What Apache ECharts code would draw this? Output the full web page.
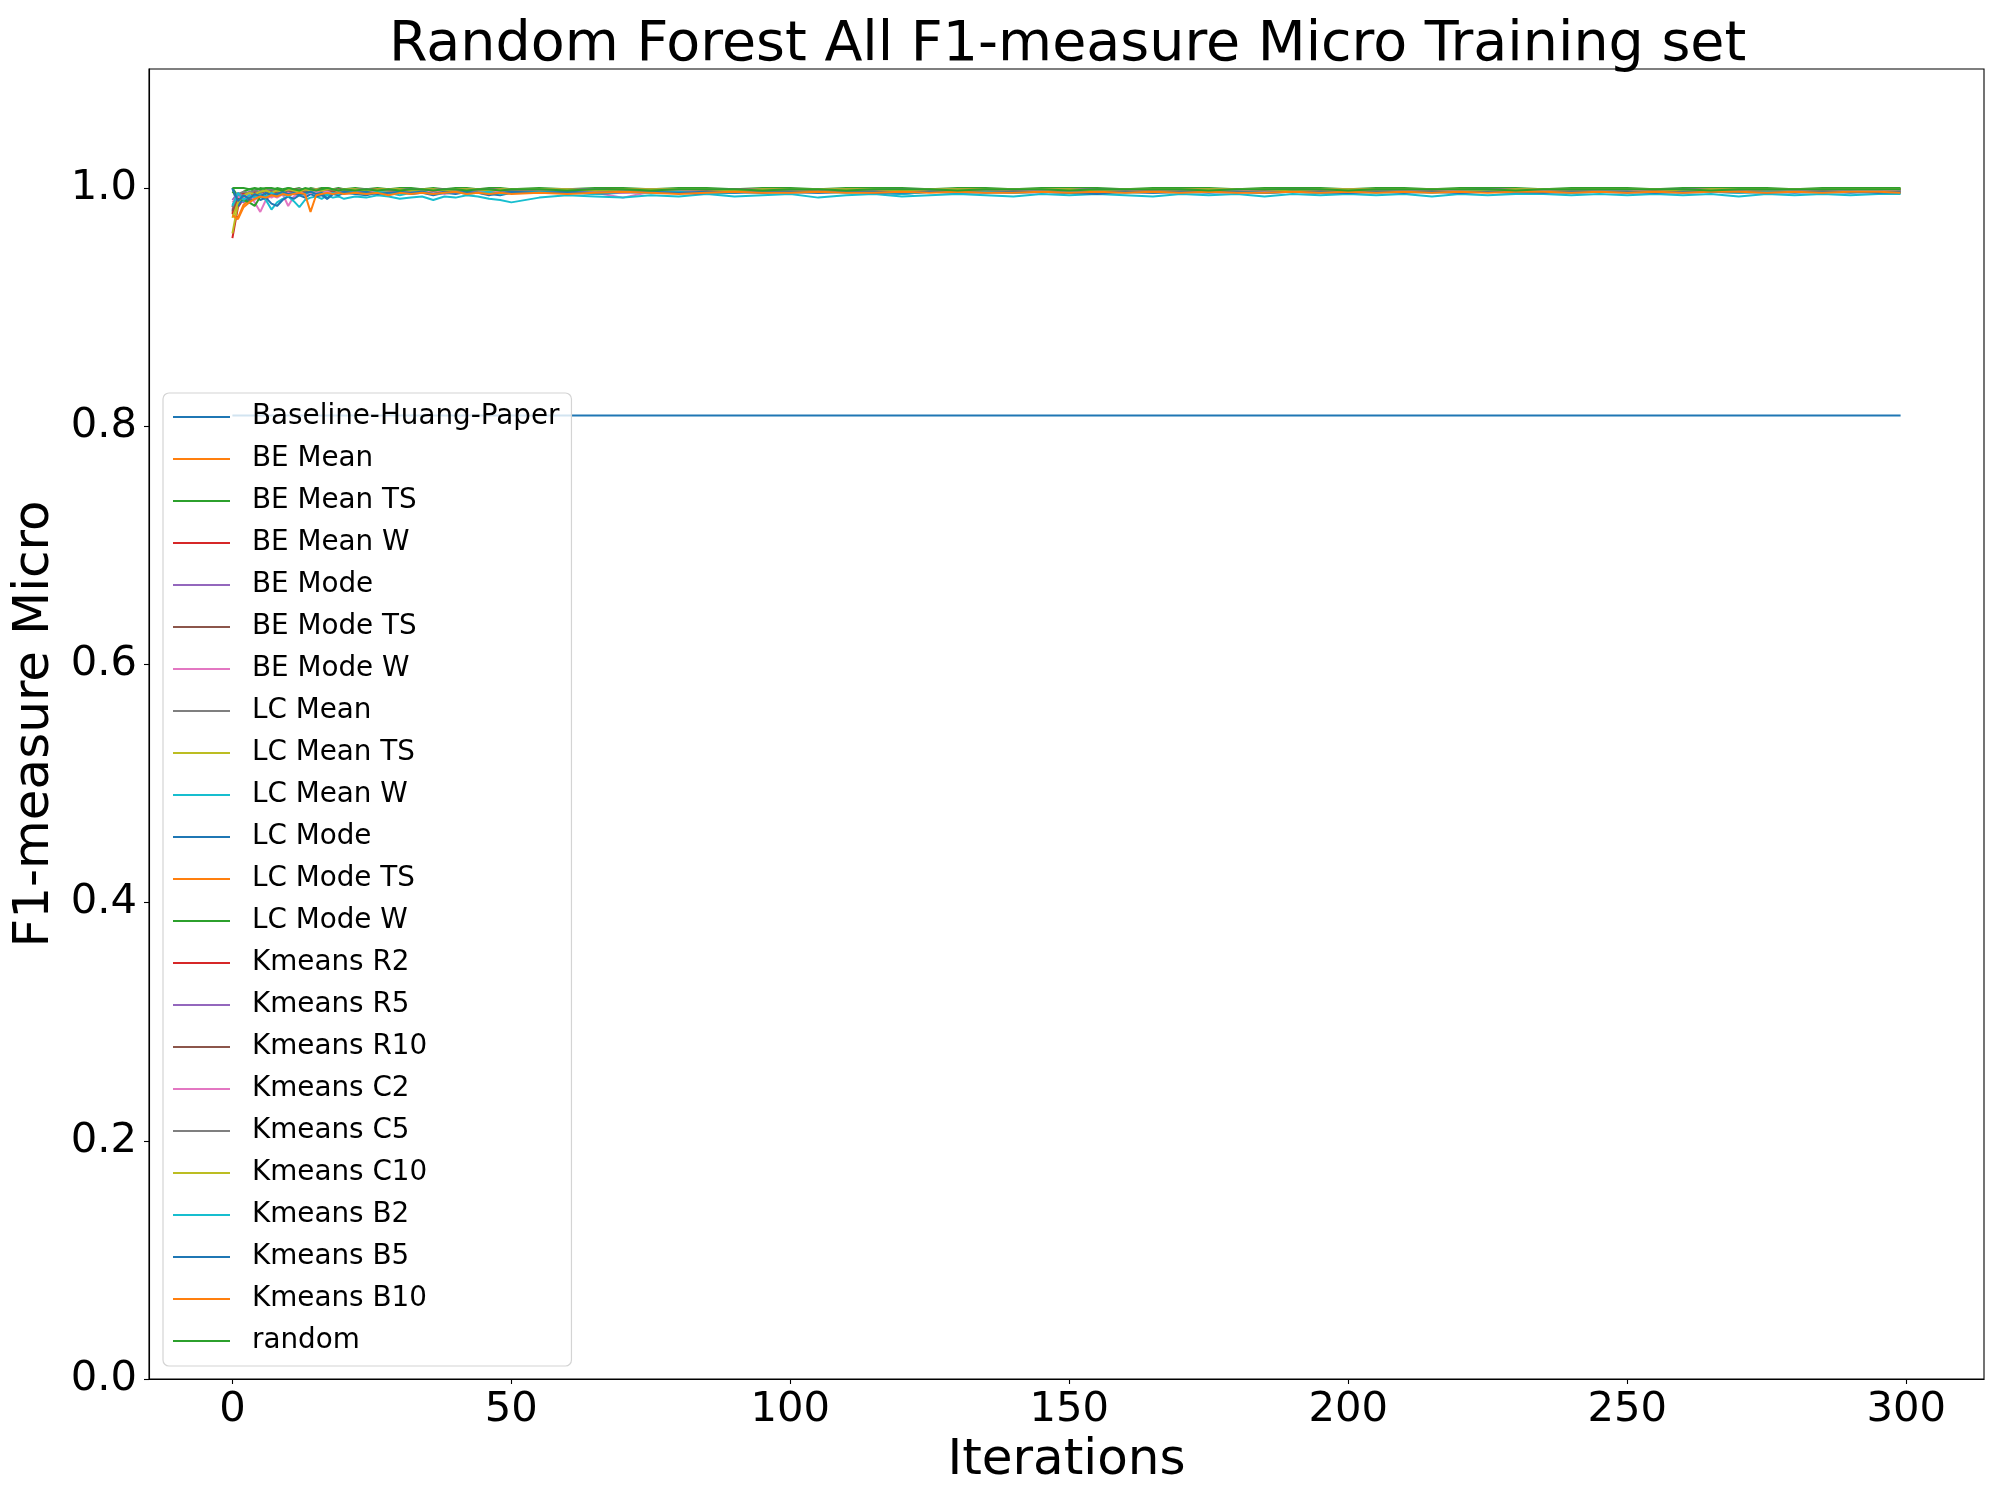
<!DOCTYPE html>
<html>
<head>
<meta charset="utf-8">
<script src="https://cdn.jsdelivr.net/npm/echarts@6/dist/echarts.min.js"></script>
<style>
html,body{margin:0;padding:0;background:#fff;}
#chart{width:2000px;height:1500px;}
</style>
</head>
<body>
<div id="chart"></div>
<script>
// ---- Data ----
const TITLE = 'Random Forest All F1-measure Micro Training set';
const X_NAME = 'Iterations';
const Y_NAME = 'F1-measure Micro';
const X_TICKS = [0, 50, 100, 150, 200, 250, 300];
const Y_TICKS = [0.0, 0.2, 0.4, 0.6, 0.8, 1.0];

const ITER = [0,1,2,3,4,5,6,7,8,9,10,11,12,13,14,15,16,17,18,19,20,
  22,24,26,28,30,32,34,36,38,40,42,44,46,48,50,
  55,60,65,70,75,80,85,90,95,100,
  105,110,115,120,125,130,135,140,145,150,
  155,160,165,170,175,180,185,190,195,200,
  205,210,215,220,225,230,235,240,245,250,
  255,260,265,270,275,280,285,290,295,299];

const BASELINE_ITER = [0, 299];
const BASELINE = [0.809, 0.809];

const BE_MEAN = [0.978,0.975,0.986,0.990,0.993,0.995,0.992,0.996,0.994,0.997, 0.995,0.996,0.998,0.995,0.996,0.997,0.995,0.997,0.996,0.998, 0.996,
  0.997,0.995,0.997,0.996,0.998,0.996,0.997,0.995,0.997,0.998, 0.996,0.997,0.996,0.998,0.997,
  0.997,0.996,0.998,0.997,0.996,0.997,0.998,0.997,0.996,0.998,
  0.997,0.997,0.998,0.996,0.997,0.998,0.997,0.997,0.998,0.997,
  0.996,0.998,0.997,0.998,0.997,0.997,0.998,0.997,0.996,0.998,
  0.997,0.998,0.997,0.997,0.998,0.997,0.998,0.997,0.997,0.998,
  0.997,0.998,0.997,0.997,0.998,0.997,0.998,0.997,0.997,0.997];
const BE_MEAN_TS = [1.000,0.993,0.997,0.999,0.998,1.000,0.999,0.998,1.000,0.999, 1.000,0.999,1.000,0.998,1.000,0.999,1.000,1.000,0.999,1.000, 0.999,
  1.000,0.999,1.000,0.999,1.000,1.000,0.999,1.000,0.999,1.000, 1.000,0.999,1.000,1.000,0.999,
  1.000,0.999,1.000,1.000,0.999,1.000,1.000,0.999,1.000,1.000,
  0.999,1.000,1.000,1.000,0.999,1.000,1.000,0.999,1.000,1.000,
  1.000,0.999,1.000,1.000,1.000,0.999,1.000,1.000,1.000,0.999,
  1.000,1.000,0.999,1.000,1.000,1.000,0.999,1.000,1.000,1.000,
  0.999,1.000,1.000,1.000,1.000,0.999,1.000,1.000,1.000,1.000];
const BE_MEAN_W = [0.958,0.984,0.991,0.995,0.993,0.997,0.996,0.998,0.995,0.997, 0.998,0.996,0.998,0.997,0.999,0.997,0.998,0.999,0.997,0.998, 0.999,
  0.998,0.997,0.999,0.998,0.997,0.999,0.998,0.999,0.997,0.998, 0.999,0.998,0.999,0.998,0.999,
  0.998,0.999,0.998,0.999,0.999,0.998,0.999,0.998,0.999,0.999,
  0.998,0.999,0.999,0.998,0.999,0.999,0.998,0.999,0.999,0.999,
  0.998,0.999,0.999,0.998,0.999,0.999,0.999,0.998,0.999,0.999,
  0.999,0.998,0.999,0.999,0.999,0.998,0.999,0.999,0.998,0.999,
  0.999,0.999,0.998,0.999,0.999,0.999,0.998,0.999,0.999,0.999];
const BE_MODE = [0.985,0.990,0.988,0.993,0.991,0.995,0.993,0.996,0.994,0.997, 0.995,0.997,0.996,0.998,0.996,0.997,0.998,0.996,0.998,0.997, 0.998,
  0.997,0.998,0.996,0.998,0.997,0.998,0.997,0.999,0.997,0.998, 0.998,0.997,0.999,0.998,0.997,
  0.998,0.999,0.998,0.997,0.998,0.999,0.998,0.998,0.999,0.998,
  0.997,0.998,0.999,0.998,0.998,0.999,0.998,0.998,0.999,0.998,
  0.998,0.999,0.998,0.998,0.999,0.998,0.999,0.998,0.998,0.999,
  0.998,0.999,0.998,0.999,0.998,0.998,0.999,0.998,0.999,0.998,
  0.999,0.998,0.999,0.998,0.999,0.998,0.999,0.998,0.999,0.998];
const BE_MODE_TS = [0.980,0.992,0.995,0.990,0.996,0.994,0.997,0.995,0.998,0.996, 0.997,0.998,0.996,0.998,0.997,0.999,0.997,0.998,0.999,0.997, 0.998,
  0.999,0.998,0.997,0.999,0.998,0.999,0.998,0.997,0.999,0.998, 0.999,0.998,0.999,0.999,0.998,
  0.999,0.998,0.999,0.999,0.998,0.999,0.999,0.998,0.999,0.999,
  0.999,0.998,0.999,0.999,0.999,0.998,0.999,0.999,0.999,0.998,
  0.999,0.999,0.999,0.998,0.999,0.999,0.999,0.999,0.998,0.999,
  0.999,0.999,0.998,0.999,0.999,0.999,0.999,0.998,0.999,0.999,
  0.999,0.999,0.998,0.999,0.999,0.999,0.999,0.999,0.998,0.999];
const BE_MODE_W = [0.982,0.995,0.991,0.993,0.988,0.980,0.990,0.994,0.992,0.995, 0.985,0.993,0.995,0.994,0.996,0.995,0.997,0.995,0.996,0.997, 0.995,
  0.997,0.996,0.995,0.997,0.996,0.998,0.996,0.997,0.995,0.997, 0.996,0.998,0.997,0.996,0.997,
  0.998,0.997,0.996,0.992,0.997,0.998,0.997,0.996,0.998,0.997,
  0.997,0.998,0.996,0.997,0.998,0.997,0.998,0.997,0.996,0.998,
  0.997,0.998,0.997,0.998,0.997,0.996,0.998,0.997,0.998,0.997,
  0.998,0.997,0.998,0.997,0.997,0.998,0.997,0.998,0.997,0.998,
  0.997,0.998,0.997,0.998,0.997,0.998,0.997,0.998,0.998,0.997];
const LC_MEAN = [0.984,0.993,0.996,0.994,0.997,0.995,0.998,0.996,0.997,0.998, 0.997,0.999,0.997,0.998,0.998,0.999,0.997,0.999,0.998,0.999, 0.998,
  0.999,0.998,0.999,0.998,0.999,0.999,0.998,0.999,0.999,0.998, 0.999,0.999,0.998,0.999,0.999,
  0.999,0.999,0.998,0.999,0.999,0.999,0.998,0.999,0.999,0.999,
  0.998,0.999,0.999,0.999,0.999,0.998,0.999,0.999,0.999,0.999,
  0.998,0.999,0.999,0.999,0.999,0.998,0.999,0.999,0.999,0.999,
  0.999,0.998,0.999,0.999,0.999,0.999,0.999,0.998,0.999,0.999,
  0.999,0.999,0.999,0.998,0.999,0.999,0.999,0.999,0.999,0.999];
const LC_MEAN_TS = [0.962,0.987,0.993,0.996,0.995,0.997,0.996,0.998,0.997,0.996, 0.998,0.997,0.999,0.998,0.997,0.999,0.998,0.998,0.999,0.998, 0.999,
  0.998,0.999,0.998,0.999,0.999,0.998,0.999,0.998,0.999,0.999, 0.998,0.999,0.999,0.998,0.999,
  0.999,0.999,0.998,0.999,0.999,0.998,0.999,0.999,0.999,0.998,
  0.999,0.999,0.999,0.998,0.999,0.999,0.999,0.999,0.998,0.999,
  0.999,0.999,0.998,0.999,0.999,0.999,0.999,0.998,0.999,0.999,
  0.999,0.999,0.999,0.998,0.999,0.999,0.999,0.999,0.998,0.999,
  0.999,0.999,0.999,0.999,0.998,0.999,0.999,0.999,0.999,0.999];
const LC_MEAN_W = [0.986,0.992,0.989,0.994,0.991,0.993,0.990,0.982,0.988,0.991, 0.993,0.989,0.984,0.990,0.992,0.993,0.991,0.994,0.992,0.993, 0.991,
  0.993,0.992,0.994,0.993,0.991,0.992,0.993,0.990,0.993,0.992, 0.994,0.993,0.991,0.990,0.988,
  0.992,0.994,0.993,0.992,0.994,0.993,0.995,0.993,0.994,0.995,
  0.992,0.994,0.995,0.993,0.994,0.995,0.994,0.993,0.995,0.994,
  0.995,0.994,0.993,0.995,0.994,0.995,0.993,0.995,0.994,0.995,
  0.994,0.995,0.993,0.995,0.994,0.995,0.995,0.994,0.995,0.994,
  0.995,0.994,0.995,0.993,0.995,0.994,0.995,0.994,0.995,0.995];
const LC_MODE = [1.000,0.985,0.992,0.988,0.993,0.990,0.992,0.987,0.985,0.990, 0.993,0.991,0.994,0.992,0.995,0.993,0.994,0.991,0.995,0.994, 0.996,
  0.995,0.994,0.996,0.995,0.997,0.995,0.996,0.994,0.996,0.995, 0.997,0.996,0.995,0.994,0.996,
  0.996,0.997,0.995,0.996,0.997,0.996,0.995,0.997,0.996,0.997,
  0.996,0.997,0.996,0.995,0.997,0.996,0.997,0.996,0.997,0.996,
  0.995,0.997,0.996,0.997,0.996,0.997,0.996,0.997,0.996,0.996,
  0.997,0.996,0.997,0.996,0.997,0.996,0.997,0.996,0.997,0.996,
  0.997,0.996,0.997,0.996,0.997,0.996,0.997,0.996,0.997,0.996];
const LC_MODE_TS = [0.979,0.990,0.994,0.992,0.995,0.993,0.996,0.994,0.997,0.995, 0.996,0.997,0.995,0.997,0.996,0.998,0.996,0.997,0.998,0.996, 0.997,
  0.998,0.997,0.996,0.998,0.997,0.998,0.996,0.997,0.998,0.997, 0.998,0.997,0.997,0.998,0.997,
  0.998,0.997,0.998,0.997,0.998,0.997,0.997,0.998,0.997,0.998,
  0.997,0.998,0.998,0.997,0.998,0.997,0.998,0.998,0.997,0.998,
  0.998,0.997,0.998,0.998,0.997,0.998,0.998,0.997,0.998,0.998,
  0.997,0.998,0.998,0.998,0.997,0.998,0.998,0.998,0.997,0.998,
  0.998,0.998,0.997,0.998,0.998,0.998,0.997,0.998,0.998,0.998];
const LC_MODE_W = [0.997,0.992,0.990,0.988,0.985,0.993,0.995,0.994,0.997,0.996, 0.998,0.997,0.998,0.999,0.997,0.998,0.999,0.998,0.999,0.998, 0.999,
  0.999,0.998,0.999,0.999,0.998,0.999,0.999,0.999,0.998,0.999, 0.999,0.999,0.998,0.999,0.999,
  0.999,0.999,0.999,0.998,0.999,0.999,0.999,0.999,0.998,0.999,
  0.999,0.999,0.999,0.999,0.998,0.999,0.999,0.999,0.999,0.999,
  0.998,0.999,0.999,0.999,0.999,0.999,0.998,0.999,0.999,0.999,
  0.999,0.999,0.999,0.998,0.999,0.999,0.999,0.999,0.999,0.999,
  0.998,0.999,0.999,0.999,0.999,0.999,0.999,0.998,0.999,0.999];
const KMEANS_R2 = [0.978,0.993,0.996,0.994,0.997,0.996,0.998,0.997,0.996,0.998, 0.997,0.999,0.998,0.997,0.999,0.998,0.999,0.998,0.999,0.998, 0.999,
  0.999,0.998,0.999,0.999,0.998,0.999,0.999,0.998,0.999,0.999, 0.999,0.998,0.999,0.999,0.999,
  0.999,0.998,0.999,0.999,0.999,0.999,0.998,0.999,0.999,0.999,
  0.999,0.998,0.999,0.999,0.999,0.999,0.999,0.998,0.999,0.999,
  0.999,0.999,0.998,0.999,0.999,0.999,0.999,0.999,0.998,0.999,
  0.999,0.999,0.999,0.999,0.998,0.999,0.999,0.999,0.999,0.999,
  0.999,0.998,0.999,0.999,0.999,0.999,0.999,0.999,0.999,0.999];
const KMEANS_R5 = [0.990,0.996,0.993,0.997,0.995,0.998,0.996,0.997,0.998,0.996, 0.998,0.997,0.999,0.997,0.998,0.999,0.998,0.997,0.999,0.998, 0.999,
  0.998,0.999,0.998,0.999,0.998,0.999,0.999,0.998,0.999,0.998, 0.999,0.999,0.998,0.999,0.999,
  0.998,0.999,0.999,0.998,0.999,0.999,0.999,0.998,0.999,0.999,
  0.999,0.998,0.999,0.999,0.999,0.999,0.998,0.999,0.999,0.999,
  0.999,0.998,0.999,0.999,0.999,0.999,0.999,0.998,0.999,0.999,
  0.999,0.999,0.998,0.999,0.999,0.999,0.999,0.999,0.998,0.999,
  0.999,0.999,0.999,0.998,0.999,0.999,0.999,0.999,0.999,0.999];
const KMEANS_R10 = [0.981,0.994,0.992,0.996,0.995,0.997,0.996,0.998,0.997,0.998, 0.996,0.998,0.999,0.997,0.998,0.999,0.998,0.999,0.997,0.999, 0.998,
  0.999,0.998,0.999,0.999,0.998,0.999,0.998,0.999,0.999,0.999, 0.998,0.999,0.999,0.998,0.999,
  0.999,0.999,0.998,0.999,0.999,0.999,0.999,0.998,0.999,0.999,
  0.999,0.999,0.999,0.998,0.999,0.999,0.999,0.999,0.999,0.998,
  0.999,0.999,0.999,0.999,0.999,0.998,0.999,0.999,0.999,0.999,
  0.999,0.999,0.998,0.999,0.999,0.999,0.999,0.999,0.999,0.998,
  0.999,0.999,0.999,0.999,0.999,0.999,0.998,0.999,0.999,0.999];
const KMEANS_C2 = [0.988,0.993,0.991,0.995,0.990,0.994,0.996,0.992,0.995,0.994, 0.996,0.995,0.997,0.995,0.996,0.997,0.996,0.997,0.995,0.997, 0.996,
  0.997,0.996,0.997,0.995,0.997,0.996,0.998,0.996,0.997,0.996, 0.997,0.998,0.996,0.997,0.996,
  0.997,0.998,0.997,0.996,0.997,0.998,0.997,0.997,0.998,0.996,
  0.997,0.998,0.997,0.998,0.997,0.997,0.998,0.997,0.998,0.997,
  0.998,0.997,0.997,0.998,0.997,0.998,0.997,0.998,0.997,0.998,
  0.997,0.998,0.997,0.998,0.998,0.997,0.998,0.997,0.998,0.998,
  0.997,0.998,0.998,0.997,0.998,0.998,0.997,0.998,0.998,0.998];
const KMEANS_C5 = [0.984,0.995,0.997,0.996,0.998,0.997,0.998,0.999,0.997,0.998, 0.999,0.998,0.999,0.998,0.999,0.999,0.998,0.999,0.999,0.998, 0.999,
  0.999,0.999,0.998,0.999,0.999,0.999,0.998,0.999,0.999,0.999, 0.999,0.998,0.999,0.999,0.999,
  0.999,0.999,0.999,0.998,0.999,0.999,0.999,0.999,0.999,0.998,
  0.999,0.999,0.999,0.999,0.999,0.999,0.998,0.999,0.999,0.999,
  0.999,0.999,0.999,0.998,0.999,0.999,0.999,0.999,0.999,0.999,
  0.998,0.999,0.999,0.999,0.999,0.999,0.999,0.998,0.999,0.999,
  0.999,0.999,0.999,0.999,0.998,0.999,0.999,0.999,0.999,0.999];
const KMEANS_C10 = [0.975,0.988,0.994,0.996,0.995,0.997,0.998,0.996,0.998,0.997, 0.999,0.998,0.997,0.999,0.998,0.999,0.998,0.999,0.999,0.998, 0.999,
  0.999,0.998,0.999,0.999,0.999,0.998,0.999,0.999,0.998,0.999, 0.999,0.999,0.998,0.999,0.999,
  0.999,0.999,0.998,0.999,0.999,0.999,0.999,0.998,0.999,0.999,
  0.999,0.999,0.999,0.998,0.999,0.999,0.999,0.999,0.999,0.999,
  0.998,0.999,0.999,0.999,0.999,0.999,0.999,0.998,0.999,0.999,
  0.999,0.999,0.999,0.999,0.998,0.999,0.999,0.999,0.999,0.999,
  0.999,0.998,0.999,0.999,0.999,0.999,0.999,0.999,0.999,0.999];
const KMEANS_B2 = [0.985,0.996,0.990,0.994,0.992,0.995,0.993,0.996,0.994,0.995, 0.993,0.996,0.994,0.995,0.997,0.995,0.996,0.994,0.996,0.995, 0.997,
  0.996,0.995,0.997,0.996,0.994,0.996,0.997,0.995,0.996,0.997, 0.995,0.996,0.997,0.995,0.996,
  0.997,0.996,0.995,0.997,0.996,0.997,0.995,0.996,0.997,0.996,
  0.997,0.996,0.997,0.995,0.997,0.996,0.997,0.996,0.997,0.996,
  0.997,0.996,0.997,0.996,0.997,0.997,0.996,0.997,0.996,0.997,
  0.996,0.997,0.996,0.997,0.997,0.996,0.997,0.996,0.997,0.997,
  0.996,0.997,0.997,0.996,0.997,0.997,0.996,0.997,0.997,0.996];
const KMEANS_B5 = [1.000,0.989,0.994,0.991,0.995,0.993,0.996,0.994,0.995,0.997, 0.995,0.996,0.994,0.996,0.997,0.995,0.996,0.991,0.995,0.996, 0.997,
  0.996,0.997,0.995,0.996,0.997,0.996,0.997,0.995,0.997,0.996, 0.997,0.996,0.994,0.996,0.997,
  0.996,0.997,0.996,0.997,0.997,0.996,0.997,0.996,0.997,0.997,
  0.996,0.997,0.997,0.996,0.997,0.997,0.996,0.997,0.997,0.996,
  0.997,0.997,0.996,0.997,0.997,0.997,0.996,0.997,0.997,0.996,
  0.997,0.997,0.997,0.996,0.997,0.997,0.996,0.997,0.997,0.997,
  0.996,0.997,0.997,0.997,0.996,0.997,0.997,0.997,0.996,0.997];
const KMEANS_B10 = [0.977,0.974,0.984,0.988,0.991,0.993,0.992,0.994,0.993,0.995, 0.994,0.995,0.996,0.995,0.980,0.994,0.995,0.996,0.995,0.996, 0.995,
  0.996,0.995,0.996,0.994,0.996,0.995,0.996,0.995,0.996,0.997, 0.995,0.996,0.995,0.996,0.995,
  0.996,0.995,0.996,0.997,0.996,0.995,0.996,0.997,0.996,0.996,
  0.997,0.996,0.996,0.997,0.996,0.997,0.996,0.996,0.997,0.996,
  0.997,0.996,0.997,0.996,0.997,0.996,0.996,0.997,0.996,0.997,
  0.996,0.997,0.996,0.997,0.996,0.997,0.997,0.996,0.997,0.996,
  0.997,0.996,0.997,0.997,0.996,0.997,0.996,0.997,0.997,0.996];
const RANDOM = [1.000,1.000,1.000,0.999,1.000,0.999,1.000,1.000,0.999,0.998, 1.000,0.999,0.998,1.000,0.999,0.998,0.999,1.000,0.999,0.998, 0.999,
  0.998,0.999,0.998,0.999,0.998,0.999,0.999,0.998,0.999,0.999, 0.998,0.999,0.999,0.998,0.999,
  0.999,0.998,0.999,0.999,0.998,0.999,0.999,0.999,0.998,0.999,
  0.999,0.998,0.999,0.999,0.999,0.998,0.999,0.999,0.999,0.998,
  0.999,0.999,0.999,0.999,0.998,0.999,0.999,0.999,0.999,0.998,
  0.999,0.999,0.999,0.999,0.999,0.998,0.999,0.999,0.999,0.999,
  0.999,0.999,0.998,0.999,0.999,0.999,0.999,0.999,0.999,0.999];

const SERIES_NAMES = ['Baseline-Huang-Paper','BE Mean','BE Mean TS','BE Mean W','BE Mode','BE Mode TS','BE Mode W',
  'LC Mean','LC Mean TS','LC Mean W','LC Mode','LC Mode TS','LC Mode W',
  'Kmeans R2','Kmeans R5','Kmeans R10','Kmeans C2','Kmeans C5','Kmeans C10','Kmeans B2','Kmeans B5','Kmeans B10','random'];
const SERIES_VALUES = [null, BE_MEAN, BE_MEAN_TS, BE_MEAN_W, BE_MODE, BE_MODE_TS, BE_MODE_W,
  LC_MEAN, LC_MEAN_TS, LC_MEAN_W, LC_MODE, LC_MODE_TS, LC_MODE_W,
  KMEANS_R2, KMEANS_R5, KMEANS_R10, KMEANS_C2, KMEANS_C5, KMEANS_C10, KMEANS_B2, KMEANS_B5, KMEANS_B10, RANDOM];

// ---- Styling ----
const TAB10 = ['#1f77b4','#ff7f0e','#2ca02c','#d62728','#9467bd','#8c564b','#e377c2','#7f7f7f','#bcbd22','#17becf'];
const FONT = 'DejaVu Sans';

const series = SERIES_NAMES.map((name, i) => {
  let data;
  if (i === 0) {
    data = BASELINE_ITER.map((x, k) => [x, BASELINE[k]]);
  } else {
    const vals = SERIES_VALUES[i];
    if (vals.length !== ITER.length) throw new Error(name + ' has ' + vals.length + ' values, expected ' + ITER.length);
    data = vals.map((v, k) => [ITER[k], v]);
  }
  return {
    name: name,
    type: 'line',
    data: data,
    symbol: 'none',
    showSymbol: false,
    color: TAB10[i % 10],
    lineStyle: { width: 2, color: TAB10[i % 10] },
    itemStyle: { color: TAB10[i % 10] },
    animation: false,
    z: 2
  };
});

const chart = echarts.init(document.getElementById('chart'), null, { renderer: 'canvas' });
chart.setOption({
  backgroundColor: '#ffffff',
  animation: false,
  title: {
    text: TITLE,
    left: 384,
    top: 13,
    textStyle: { fontFamily: FONT, fontSize: 55.5, fontWeight: 'normal', color: '#000' }
  },
  grid: {
    left: 149, right: 16, top: 69, bottom: 121,
    show: true, borderColor: '#000', borderWidth: 1.1, backgroundColor: 'transparent'
  },
  legend: {
    orient: 'vertical',
    left: 163, top: 393,
    padding: [10, 12, 11, 10],
    itemGap: 14,
    itemWidth: 57,
    itemHeight: 2.2,
    icon: 'rect',
    backgroundColor: 'rgba(255,255,255,0.8)',
    borderColor: '#d4d4d4',
    borderWidth: 1.2,
    borderRadius: 6,
    textStyle: { fontFamily: FONT, fontSize: 27.8, color: '#000', lineHeight: 28, padding: [0, 0, 0, 17] },
    data: SERIES_NAMES
  },
  xAxis: {
    type: 'value',
    min: -14.95, max: 313.95,
    name: X_NAME,
    nameLocation: 'middle',
    nameGap: 52,
    nameTextStyle: { fontFamily: FONT, fontSize: 50, color: '#000' },
    axisLine: { show: true, onZero: false, lineStyle: { color: '#000', width: 1.1 } },
    axisTick: { show: true, inside: false, length: 5, customValues: X_TICKS, lineStyle: { color: '#000', width: 1.1 } },
    axisLabel: { show: true, customValues: X_TICKS, margin: 10, fontFamily: FONT, fontSize: 41.7, color: '#000' },
    splitLine: { show: false }
  },
  yAxis: {
    type: 'value',
    min: 0, max: 1.1,
    name: Y_NAME,
    nameLocation: 'middle',
    nameGap: 89,
    nameRotate: 90,
    nameTextStyle: { fontFamily: FONT, fontSize: 50, color: '#000' },
    axisLine: { show: true, onZero: false, lineStyle: { color: '#000', width: 1.1 } },
    axisTick: { show: true, inside: false, length: 5, customValues: Y_TICKS, lineStyle: { color: '#000', width: 1.1 } },
    axisLabel: { show: true, customValues: Y_TICKS, margin: 12, fontFamily: FONT, fontSize: 41.7, color: '#000',
      formatter: v => Number(v).toFixed(1) },
    splitLine: { show: false }
  },
  series: series
});
</script>
</body>
</html>
